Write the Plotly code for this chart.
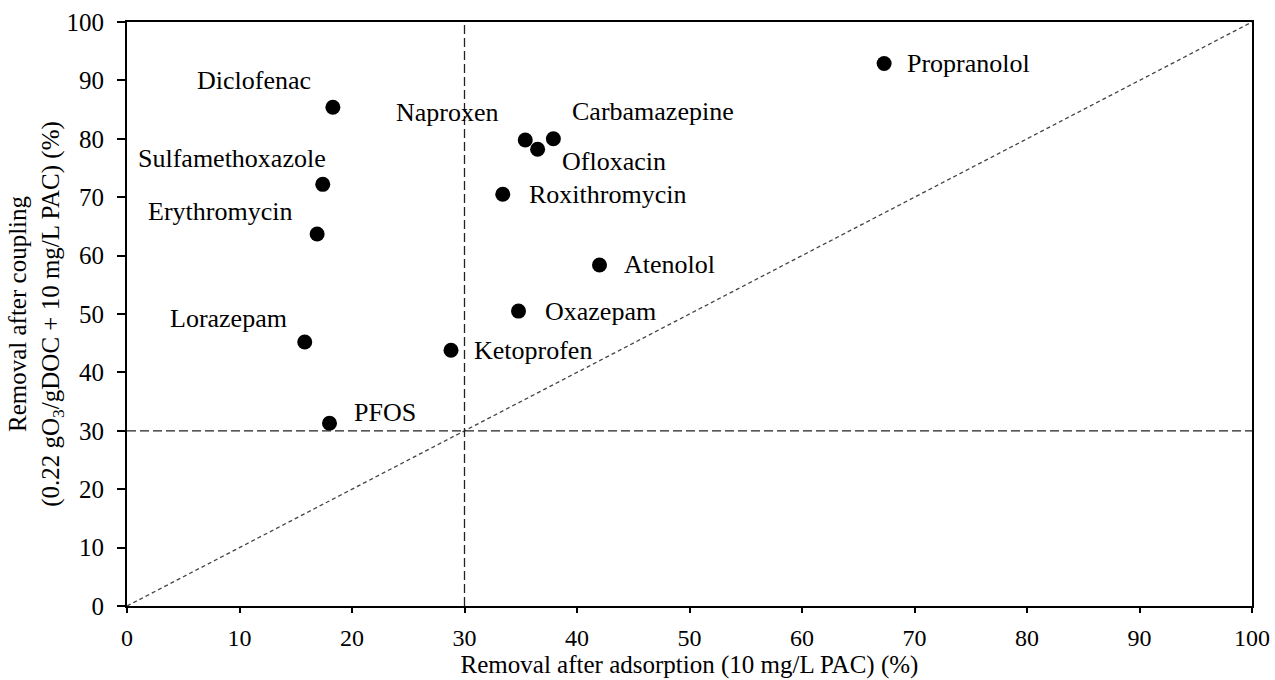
import plotly.graph_objects as go

compounds = ["Propranolol", "Diclofenac", "Sulfamethoxazole", "Erythromycin", "Lorazepam",
             "PFOS", "Ketoprofen", "Oxazepam", "Atenolol", "Roxithromycin", "Ofloxacin",
             "Naproxen", "Carbamazepine"]
adsorption = [67.3, 18.3, 17.4, 16.9, 15.8, 18.0, 28.8, 34.8, 42.0, 33.4, 36.5, 35.4, 37.9]
coupling = [92.9, 85.4, 72.2, 63.7, 45.2, 31.3, 43.8, 50.5, 58.4, 70.5, 78.2, 79.8, 80.0]

threshold_x = 30
threshold_y = 30
axis_range = [0, 100]
tick_vals = list(range(0, 101, 10))

# label placement: (xanchor, xshift px, yshift px)
label_pos = {
    "Propranolol": ("left", 21, 0),
    "Diclofenac": ("right", -20, 27),
    "Sulfamethoxazole": ("right", 5, 26),
    "Erythromycin": ("right", -23, 22),
    "Lorazepam": ("right", -16, 24),
    "PFOS": ("left", 22, 11),
    "Ketoprofen": ("left", 21, 0),
    "Oxazepam": ("left", 24, 0),
    "Atenolol": ("left", 22, 0),
    "Roxithromycin": ("left", 24, 0),
    "Ofloxacin": ("left", 22, -12),
    "Naproxen": ("right", -24, 27),
    "Carbamazepine": ("left", 17, 27),
}

FONT = "Liberation Serif, Times New Roman, serif"
FS = 26

fig = go.Figure()

# 1:1 line
fig.add_trace(go.Scatter(x=axis_range, y=axis_range, mode="lines",
                         line=dict(color="#444444", width=1.3, dash="4px,3px"),
                         hoverinfo="skip", showlegend=False))

fig.add_trace(go.Scatter(x=adsorption, y=coupling, mode="markers", text=compounds,
                         marker=dict(color="black", size=15), showlegend=False))

fig.add_shape(type="line", xref="x", yref="paper", x0=threshold_x, x1=threshold_x, y0=0, y1=1,
              line=dict(color="#222222", width=1.3, dash="9px,4px"))
fig.add_shape(type="line", xref="paper", yref="y", x0=0, x1=1, y0=threshold_y, y1=threshold_y,
              line=dict(color="#222222", width=1.3, dash="9px,4px"))

for name, xv, yv in zip(compounds, adsorption, coupling):
    anchor, xs, ys = label_pos[name]
    fig.add_annotation(x=xv, y=yv, text=name, showarrow=False, xanchor=anchor, yanchor="middle",
                       xshift=xs, yshift=ys, font=dict(family=FONT, size=FS, color="black"))

axis_common = dict(range=axis_range, tickvals=tick_vals, showgrid=False, zeroline=False,
                   showline=True, linecolor="black", linewidth=2.2, mirror=True,
                   ticks="outside", tickcolor="black", automargin=False)

fig.update_xaxes(**axis_common, ticklen=5, tickwidth=2, ticklabelstandoff=4,
                 tickfont=dict(family=FONT, size=24, color="black"),
                 title=dict(text="Removal after adsorption (10 mg/L PAC) (%)",
                            font=dict(family=FONT, size=25, color="black"), standoff=6))
fig.update_yaxes(**axis_common, ticklen=8, tickwidth=1.6, ticklabelstandoff=8,
                 tickfont=dict(family=FONT, size=25, color="black"),
                 title=dict(text="Removal after coupling<br>(0.22 gO<sub>3</sub>/gDOC + 10 mg/L PAC) (%)",
                            font=dict(family=FONT, size=25, color="black"), standoff=0))

fig.update_layout(width=1275, height=680, plot_bgcolor="white", paper_bgcolor="white",
                  margin=dict(l=127, r=23, t=22, b=74), showlegend=False)

fig.write_html("out.html", config={"displayModeBar": False},
               post_script="document.body.style.margin='0px';")
